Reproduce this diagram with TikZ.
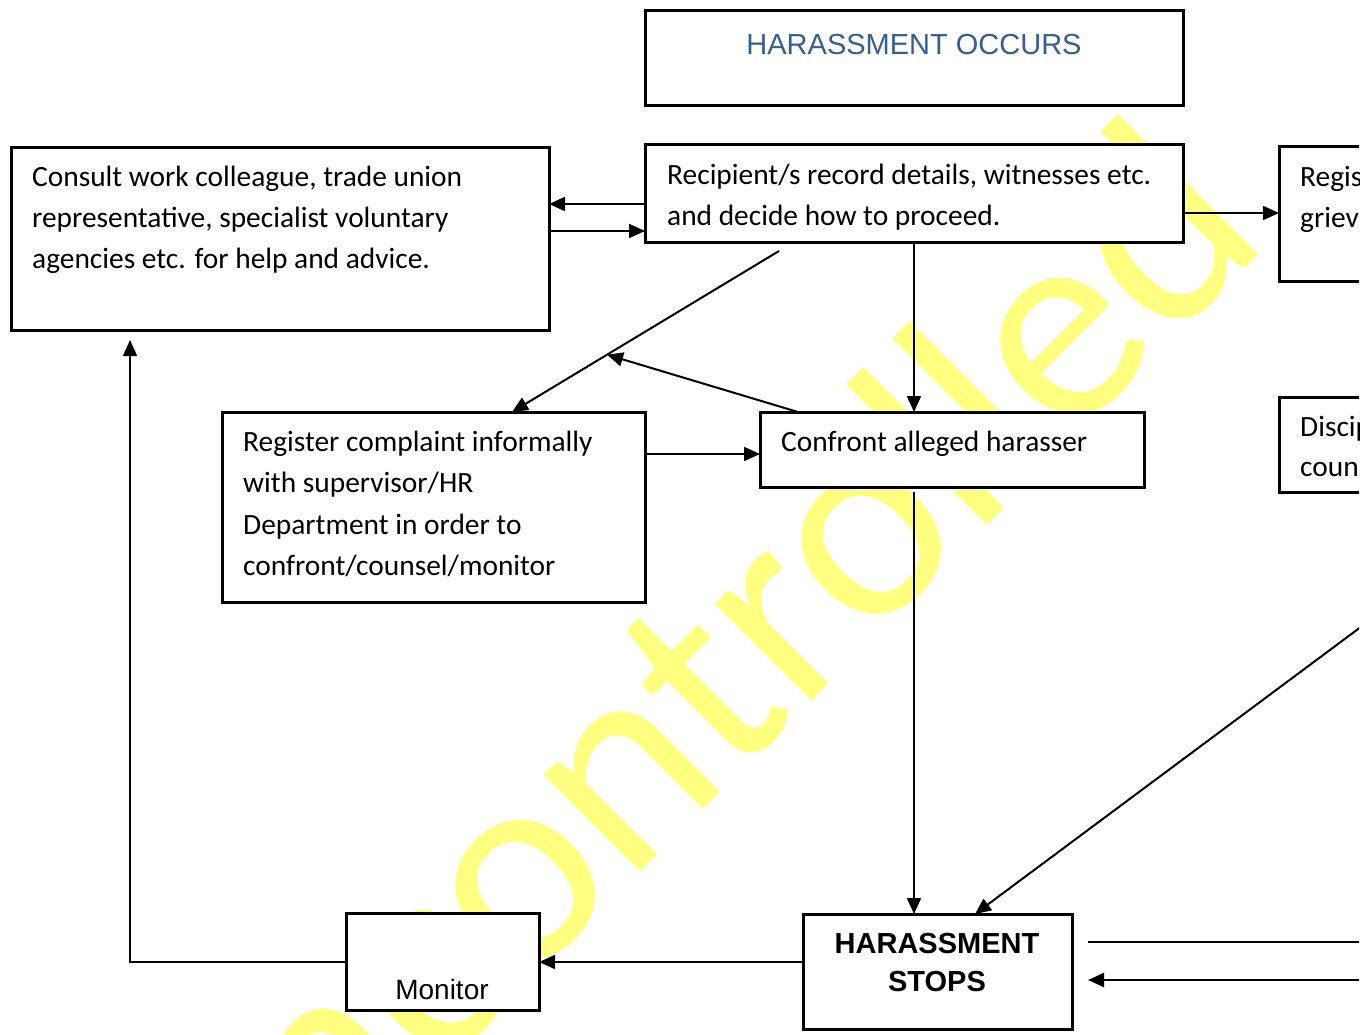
\documentclass[tikz,border=0pt]{standalone}
\usepackage{fontspec}
\setmainfont{Carlito}
\newfontfamily\arialf{Liberation Sans}
\usetikzlibrary{arrows.meta,calc,fit}
\definecolor{wmyellow}{RGB}{255,255,128}
\definecolor{headblue}{RGB}{54,95,145}
\begin{document}
\begin{tikzpicture}[x=1pt,y=-1pt,
  box/.style={draw, line width=3pt, fill=white, inner sep=0pt, outer sep=0pt},
  txt/.style={anchor=base west, inner sep=0pt, font=\fontsize{29.4}{35}\selectfont},
  atxt/.style={anchor=base, inner sep=0pt, font=\arialf\fontsize{29}{35}\selectfont},
  arr/.style={line width=2pt, -{Triangle[length=16pt,width=14pt]}},
  thinln/.style={line width=1.5pt}
]
\useasboundingbox (0,0) rectangle (1367,1034);
\clip (0,0) rectangle (1359,1034);
% watermark
\node[rotate=45, anchor=base west, inner sep=0pt, text=wmyellow,
      font=\fontsize{286}{286}\selectfont] (wm) at (200,1312) {Uncontrolled};
% boxes
\node[box, fit={(645,10) (1183,105)}] (A) {};
\node[box, fit={(645,144) (1183,242)}] (B) {};
\node[box, fit={(11,147) (549,330)}] (C) {};
\node[box, fit={(1279,146) (1420,281)}] (D) {};
\node[box, fit={(1279,397) (1420,492)}] (E) {};
\node[box, fit={(222,412) (645,602)}] (F) {};
\node[box, fit={(760,412) (1144,487)}] (G) {};
\node[box, fit={(346,913) (539,1010)}] (H) {};
\node[box, fit={(803,914) (1072,1029)}] (I) {};
% texts
\node[atxt, text=headblue] (At) at (914,54) {HARASSMENT OCCURS};
\node[txt] (B1) at (667,184) {Recipient/s record details, witnesses etc.};
\node[txt] (B2) at (667,225) {and decide how to proceed.};
\node[txt] (C1) at (32,186) {Consult work colleague, trade union};
\node[txt] (C2) at (32,227) {representative, specialist voluntary};
\node[txt] (C3) at (32,268) {agencies etc. for help and advice.};
\node[txt] (D1) at (1300,186) {Regis};
\node[txt] (D2) at (1300,227) {griev};
\node[txt] (E1) at (1300,436) {Discip};
\node[txt] (E2) at (1300,476) {couns};
\node[txt] (F1) at (243,451) {Register complaint informally};
\node[txt] (F2) at (243,492) {with supervisor/HR};
\node[txt] (F3) at (243,534) {Department in order to};
\node[txt] (F4) at (243,575) {confront/counsel/monitor};
\node[txt] (G1) at (781,451) {Confront alleged harasser};
\node[atxt, font=\arialf\fontsize{28}{34}\selectfont] (H1) at (442,999) {Monitor};
\node[atxt, font=\arialf\bfseries\fontsize{29}{35}\selectfont] (I1) at (937,953) {HARASSMENT};
\node[atxt, font=\arialf\bfseries\fontsize{29}{35}\selectfont] (I2) at (937,991) {STOPS};
% free coordinates
\coordinate (d1) at (779,251);
\coordinate (fTip) at (F.north -| 512,0);
\coordinate (mid) at ($(d1)!0.644!(fTip)$);
\coordinate (r1) at (1385,609);
\coordinate (r2) at (1385,942);
\coordinate (r3) at (1385,980);
% connectors
\draw[arr] (B.west |- 0,204) -- (C.east |- 0,204);
\draw[arr] (C.east |- 0,231) -- (B.west |- 0,231);
\draw[arr] (B.east |- 0,213) -- (D.west |- 0,213);
\draw[arr] (B.south) -- (G.north -| B.south);
\draw[arr] (d1) -- (fTip);
\draw[arr] (G.north -| 798,0) -- (mid);
\draw[arr] (F.east |- 0,454) -- (G.west |- 0,454);
\draw[arr] ([yshift=-5pt]G.south -| B.south) -- (I.north -| B.south);
\draw[arr] (r1) -- (I.north -| 975,0);
\draw[arr] (I.west |- 0,962) -- (H.east |- 0,962);
\draw[thinln, -{Triangle[length=16pt,width=14pt]}] (H.west |- 0,962) -| ([yshift=-10pt]C.south -| 130,0);
\draw[thinln] ([xshift=16pt]I.east |- 0,942) -- (r2);
\draw[arr] (r3) -- ([xshift=16pt]I.east |- 0,980);
\end{tikzpicture}
\end{document}
